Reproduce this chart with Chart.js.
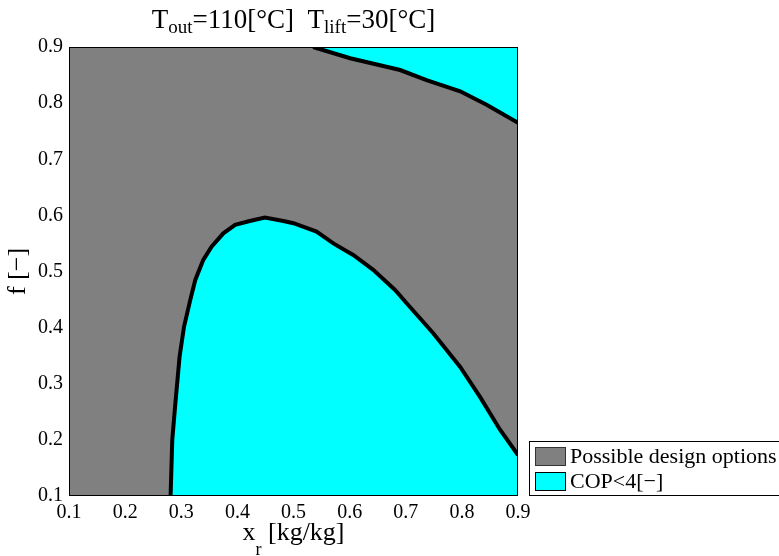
<!DOCTYPE html>
<html>
<head>
<meta charset="utf-8">
<script src="https://cdn.jsdelivr.net/npm/chart.js@4"></script>
<style>
  html, body { margin: 0; padding: 0; background: #fff; }
  canvas { display: block; }
</style>
</head>
<body>
<canvas id="chart" width="779" height="556"></canvas>
<script>
// COP = 4 contour, lower branch (x_r, f)
const lowerX = [0.281, 0.284, 0.289, 0.297, 0.305, 0.316, 0.325, 0.339, 0.354, 0.375, 0.396, 0.422,
                0.449, 0.482, 0.500, 0.541, 0.571, 0.607, 0.642, 0.681, 0.702, 0.749, 0.797, 0.832,
                0.868, 0.900];
const lowerY = [0.100, 0.200, 0.259, 0.348, 0.402, 0.449, 0.485, 0.520, 0.544, 0.568, 0.583, 0.590,
                0.596, 0.590, 0.586, 0.571, 0.550, 0.529, 0.503, 0.467, 0.443, 0.390, 0.330, 0.277,
                0.218, 0.173];

// COP = 4 contour, upper branch
const upperX = [0.535, 0.601, 0.690, 0.737, 0.797, 0.844, 0.900];
const upperY = [0.900, 0.880, 0.859, 0.841, 0.821, 0.797, 0.765];

// full design space (filled down to the axis)
const spaceX = [0.1, 0.9];
const spaceY = [0.9, 0.9];

const axisTicks = [0.1, 0.2, 0.3, 0.4, 0.5, 0.6, 0.7, 0.8, 0.9];
const seriesLabels = ['Possible design options', 'COP<4[\u2212]'];

const GRAY = '#808080';
const CYAN = '#00ffff';
const SERIF = '"Liberation Serif", "Times New Roman", serif';

const toPoints = (xs, ys) => xs.map((x, i) => ({ x, y: ys[i] }));

// draws a row of text runs (for sub/superscripts) centred on cx
function drawRuns(ctx, runs, cx, baseline) {
  let total = 0;
  runs.forEach(r => {
    ctx.font = r.size + 'px ' + SERIF;
    r.w = ctx.measureText(r.text).width;
    total += r.w;
  });
  let x = cx - total / 2;
  ctx.textAlign = 'left';
  ctx.textBaseline = 'alphabetic';
  ctx.fillStyle = '#000';
  runs.forEach(r => {
    ctx.font = r.size + 'px ' + SERIF;
    ctx.fillText(r.text, x, baseline + (r.dy || 0));
    x += r.w;
  });
}

const decorations = {
  id: 'decorations',
  afterDatasetsDraw(chart) {
    const { ctx, chartArea: a } = chart;
    ctx.save();
    ctx.strokeStyle = '#000';
    ctx.lineWidth = 1;
    ctx.strokeRect(a.left + 0.5, a.top + 0.5, a.right - a.left - 1, a.bottom - a.top - 1);
    ctx.restore();
  },
  afterDraw(chart) {
    const { ctx, chartArea: a } = chart;
    const cx = (a.left + a.right) / 2;
    ctx.save();

    // title
    drawRuns(ctx, [
      { text: 'T', size: 27 },
      { text: 'out', size: 19, dy: 5 },
      { text: '=110[\u00b0C]  T', size: 27 },
      { text: 'lift', size: 19, dy: 5 },
      { text: '=30[\u00b0C]', size: 27 }
    ], cx, a.top - 19);

    // x axis title
    drawRuns(ctx, [
      { text: 'x', size: 26 },
      { text: 'r', size: 18, dy: 15 },
      { text: ' [kg/kg]', size: 26 }
    ], cx, a.bottom + 44);

    // legend, entries in legendOrder
    const items = chart.data.datasets
      .filter(d => d.legendOrder !== undefined)
      .sort((p, q) => p.legendOrder - q.legendOrder);
    const lx = a.right + 11, ly = a.top + 394;
    ctx.fillStyle = '#fff';
    ctx.fillRect(lx, ly, 260, 55);
    ctx.strokeStyle = '#000';
    ctx.lineWidth = 1;
    ctx.strokeRect(lx + 0.5, ly + 0.5, 260, 54);
    ctx.font = '22px ' + SERIF;
    ctx.textAlign = 'left';
    ctx.textBaseline = 'middle';
    items.forEach((d, i) => {
      const by = ly + 6 + i * 25;
      ctx.fillStyle = d.backgroundColor;
      ctx.fillRect(lx + 6, by, 31, 19);
      ctx.strokeStyle = i === 0 ? '#333' : '#000';
      ctx.strokeRect(lx + 6.5, by + 0.5, 30, 18);
      ctx.fillStyle = '#000';
      ctx.fillText(d.label, lx + 41, by + 10);
    });
    ctx.restore();
  }
};

new Chart(document.getElementById('chart'), {
  type: 'scatter',
  data: {
    datasets: [
      {
        label: seriesLabels[1],
        legendOrder: 1,
        data: toPoints(lowerX, lowerY),
        showLine: true,
        fill: 'start',
        backgroundColor: CYAN,
        borderColor: '#000',
        borderWidth: 4,
        pointRadius: 0,
        tension: 0,
        order: 1
      },
      {
        label: seriesLabels[1],
        data: toPoints(upperX, upperY),
        showLine: true,
        fill: 'end',
        backgroundColor: CYAN,
        borderColor: '#000',
        borderWidth: 4,
        pointRadius: 0,
        tension: 0,
        order: 1
      },
      {
        label: seriesLabels[0],
        legendOrder: 0,
        data: toPoints(spaceX, spaceY),
        showLine: true,
        fill: 'start',
        backgroundColor: GRAY,
        borderWidth: 0,
        pointRadius: 0,
        order: 3
      }
    ]
  },
  options: {
    responsive: false,
    animation: false,
    layout: { padding: { top: 47, right: 261, left: 0, bottom: 0 } },
    plugins: {
      legend: { display: false },
      tooltip: { enabled: false }
    },
    scales: {
      x: {
        type: 'linear',
        min: axisTicks[0],
        max: axisTicks[axisTicks.length - 1],
        afterFit: s => { s.height = 60; },
        afterBuildTicks: s => { s.ticks = axisTicks.map(v => ({ value: v })); },
        grid: { display: false, drawTicks: false },
        border: { display: false },
        ticks: {
          color: '#000',
          padding: 5,
          maxRotation: 0,
          font: { family: SERIF, size: 20 },
          callback: v => v.toFixed(1)
        }
      },
      y: {
        type: 'linear',
        min: axisTicks[0],
        max: axisTicks[axisTicks.length - 1],
        afterFit: s => { s.width = 69; },
        afterBuildTicks: s => { s.ticks = axisTicks.map(v => ({ value: v })); },
        grid: { display: false, drawTicks: false },
        border: { display: false },
        title: {
          display: true,
          text: 'f [\u2212]',
          color: '#000',
          padding: { top: 3, bottom: 0 },
          font: { family: SERIF, size: 26, lineHeight: 1.2 }
        },
        ticks: {
          color: '#000',
          padding: 6,
          font: { family: SERIF, size: 20 },
          callback: v => v.toFixed(1)
        }
      }
    }
  },
  plugins: [decorations]
});
</script>
</body>
</html>
